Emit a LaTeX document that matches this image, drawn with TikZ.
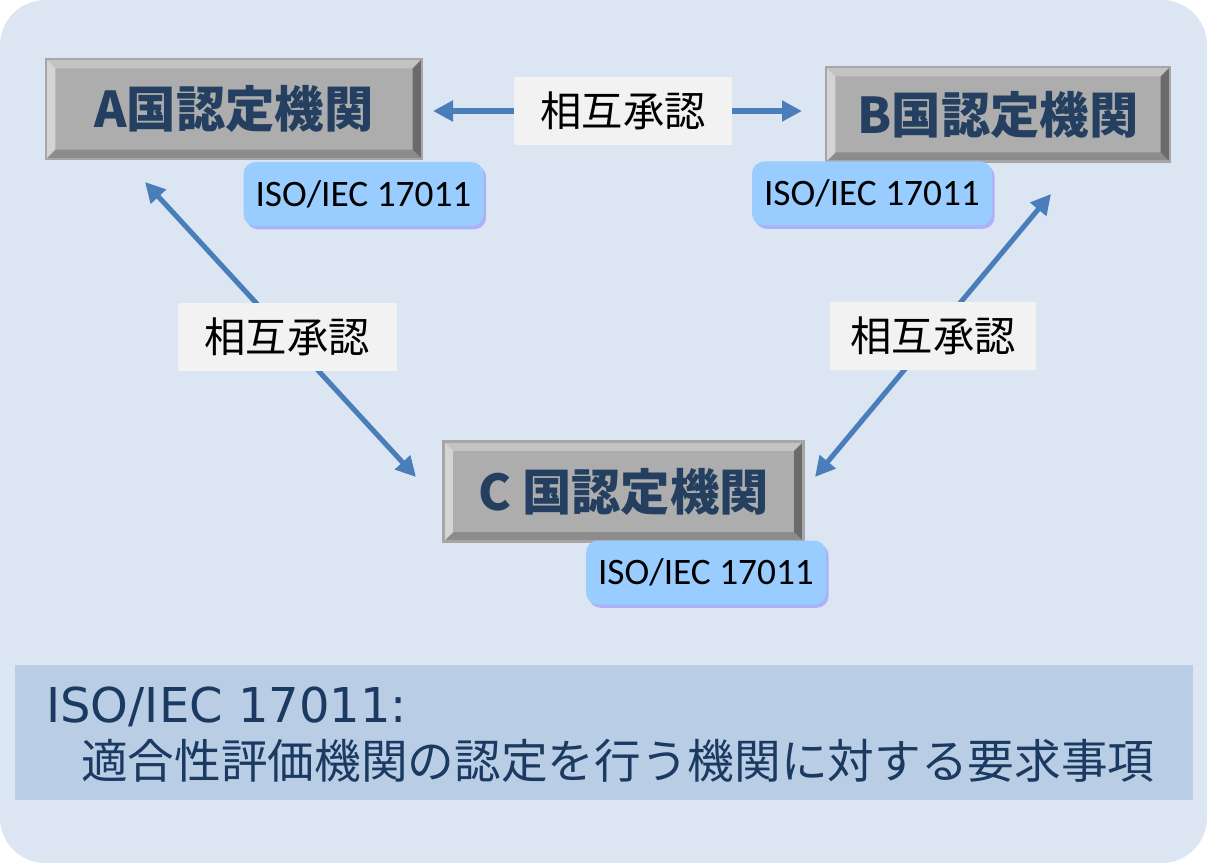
\documentclass[tikz,border=0pt]{standalone}
\usepackage{fontspec}
\usepackage{xcolor}
\usepackage{tikz}
\usetikzlibrary{arrows.meta,calc,shadows}

\newfontfamily\jpfont{Noto Sans CJK JP}
\newfontfamily\isofont{Carlito}
\newfontfamily\notefont{DejaVu Sans}

\definecolor{bgblue}{HTML}{DCE6F2}
\definecolor{noteblue}{HTML}{B9CDE5}
\definecolor{navy}{HTML}{1B3A62}
\definecolor{titleblue}{HTML}{243F60}
\definecolor{arrowblue}{HTML}{4A7EBB}
\definecolor{isoblue}{HTML}{99CCFF}
\definecolor{lblgray}{HTML}{F2F2F2}
\definecolor{boxface}{HTML}{ADADAD}
\definecolor{boxedge}{HTML}{A6A6A6}
\definecolor{bevtop}{HTML}{C3C3C3}
\definecolor{bevleft}{HTML}{D4D4D4}
\definecolor{bevright}{HTML}{6B6B6B}
\definecolor{bevbottom}{HTML}{8C8C8C}

\begin{document}
\begin{tikzpicture}[
  x=0.75pt, y=-0.75pt,
  agency/.style={rectangle, draw=boxedge, line width=2pt, fill=boxface,
                 text=titleblue, inner sep=0pt,
                 font=\jpfont\bfseries\fontsize{37}{42}\selectfont,
                 path picture={
                   \fill[bevtop] (path picture bounding box.north west) -- (path picture bounding box.north east)
                     -- ++(-7pt,-7pt) -- ($(path picture bounding box.north west)+(7pt,-7pt)$) -- cycle;
                   \fill[bevbottom] (path picture bounding box.south west) -- (path picture bounding box.south east)
                     -- ++(-7pt,7pt) -- ($(path picture bounding box.south west)+(7pt,7pt)$) -- cycle;
                   \fill[bevleft] (path picture bounding box.north west) -- (path picture bounding box.south west)
                     -- ++(7pt,7pt) -- ($(path picture bounding box.north west)+(7pt,-7pt)$) -- cycle;
                   \fill[bevright] (path picture bounding box.north east) -- (path picture bounding box.south east)
                     -- ++(-7pt,7pt) -- ($(path picture bounding box.north east)+(-7pt,-7pt)$) -- cycle;
                 }},
  iso/.style={rectangle, rounded corners=9pt, fill=isoblue, inner sep=0pt,
              minimum width=180pt, minimum height=48pt,
              font=\isofont\fontsize{28}{32}\selectfont,
              drop shadow={shadow xshift=2pt, shadow yshift=-2.5pt,
                           fill=blue!55!white, opacity=0.45}},
  lbl/.style={rectangle, fill=lblgray, inner sep=0pt, minimum height=51pt,
              font=\jpfont\fontsize{31}{36}\selectfont},
  arr/.style={{Triangle[length=15pt,width=15pt]}-{Triangle[length=15pt,width=15pt]},
              line width=3.8pt, draw=arrowblue}
]
\useasboundingbox (0,0) rectangle (1207,863);
\fill[white] (0,0) rectangle (1207,863);
\fill[bgblue, rounded corners=34pt] (0,0) rectangle (1207,863);

% agencies
\node[agency, minimum width=282pt, minimum height=75pt] (A) at (234,109) {A国認定機関};
\node[agency, minimum width=258pt, minimum height=71pt] (B) at (998,114.5) {B国認定機関};
\node[agency, minimum width=270pt, minimum height=75pt] (C) at (623.5,491.5) {C 国認定機関};

% arrow ends
\coordinate (aR) at (433,111);
\coordinate (bL) at (802,111);
\coordinate (aD) at (145,182);
\coordinate (cL) at (416,477);
\coordinate (bD) at (1051,194);
\coordinate (cR) at (815,477);

\draw[arr] (aR) -- (bL) node[lbl, minimum width=163pt, pos=0.515] (mAB) {相互承認};
\draw[arr] (aD) -- (cL) node[lbl, minimum width=164pt, pos=0.525] (mAC) {相互承認};
\draw[arr] (bD) -- (cR) node[lbl, minimum width=154pt, midway] (mBC) {相互承認};

% standard tags
\node[iso] (isoA) at (363.5,194) {ISO/IEC 17011};
\node[iso] (isoB) at (872,193.5) {ISO/IEC 17011};
\node[iso] (isoC) at (706,572.5) {ISO/IEC 17011};

% note
\node[rectangle, fill=noteblue, minimum width=883.5pt, minimum height=101pt, inner sep=0pt]
  (note) at (604,732.5) {};
\node[anchor=base west, inner sep=0pt, text=navy, font=\notefont\fontsize{36}{40}\selectfont]
  (noteHead) at (46,722) {ISO/IEC 17011:};
\node[anchor=base west, inner sep=0pt, text=navy, font=\jpfont\fontsize{35}{40}\selectfont]
  (noteBody) at (81,778) {適合性評価機関の認定を行う機関に対する要求事項};
\end{tikzpicture}
\end{document}
